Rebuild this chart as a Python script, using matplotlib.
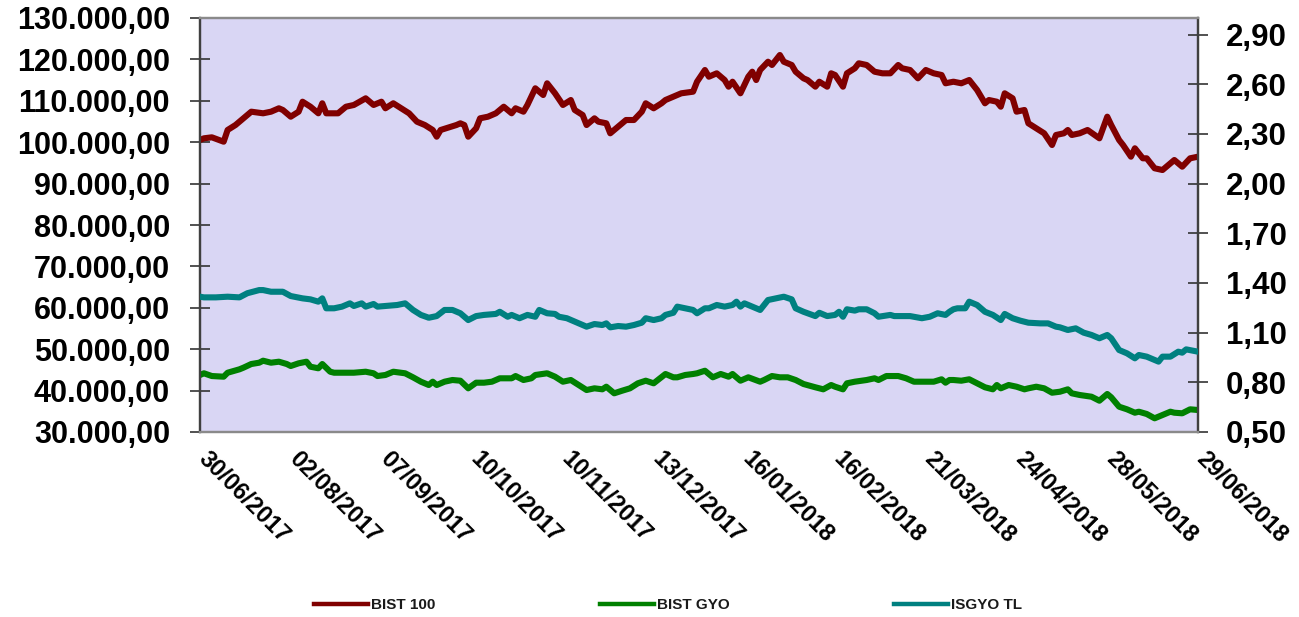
import matplotlib
matplotlib.use("Agg")
import matplotlib.pyplot as plt
from matplotlib.ticker import FuncFormatter, FixedLocator
from matplotlib.lines import Line2D
from matplotlib.transforms import ScaledTranslation

# ---------------- data ----------------
date_labels = ["30/06/2017", "02/08/2017", "07/09/2017", "10/10/2017", "10/11/2017",
               "13/12/2017", "16/01/2018", "16/02/2018", "21/03/2018", "24/04/2018",
               "28/05/2018", "29/06/2018"]
label_step = 23  # trading days between labelled dates

bist100_day = [0, 1, 3, 6, 7, 9, 11, 13, 16, 18, 20, 21, 23, 25, 26, 28, 30, 31, 32, 35,
               37, 39, 42, 44, 46, 47, 49, 51, 53, 55, 57, 59, 60, 61,
               65, 66, 67, 68, 70, 71, 73, 75, 77, 79, 80, 82, 83, 85, 87, 88, 90, 92, 94, 95,
               97, 98, 100, 101, 103, 104, 106, 108, 110, 112, 113, 115, 117, 118, 120, 122,
               125, 126, 128,
               129, 131, 133, 134, 135, 137, 139, 140, 141, 142, 144, 145, 147, 148, 150, 151,
               153, 154, 156, 157, 159, 160, 161, 163, 164, 166, 167, 169, 171, 173, 175, 177,
               178, 180, 182, 184, 186, 188, 189, 191,
               193, 195, 197, 199, 200, 202, 203, 204, 206, 207, 209, 210, 212, 214, 216, 217,
               219, 220, 221, 223, 225, 228, 230, 231, 233, 234, 236, 237, 239, 240, 242, 244,
               245, 247, 249, 251, 253]
bist100_val = [100530, 100940, 101180, 100120, 102950, 104150, 105770, 107370, 106980, 107370,
               108190, 107780, 106160, 107370, 109780, 108570, 106980, 109400, 106980, 106980,
               108570, 108990, 110600, 108990, 109780, 108190, 109400, 108190, 106980, 104950,
               104150, 102950, 101330, 102950,
               104150, 104565, 104150, 101330, 103360, 105770, 106160, 106980, 108570, 106980,
               108190, 107370, 108990, 113020, 111400, 114230, 111810, 108990, 110190, 107780,
               106570, 104150, 105770, 104950, 104565, 102150, 103740, 105360, 105360, 107370,
               109400, 108190, 109400, 110190, 110990, 111810, 112200, 114610, 117440,
               115820, 116640, 115020, 113410, 114610, 111810, 115820, 117030, 115020, 117440,
               119440, 118650, 121060, 119440, 118650, 117030, 115430, 115020, 113410, 114610,
               113410, 116640, 116230, 113410, 116640, 117850, 119060, 118650, 117030, 116640,
               116640, 118650, 117850, 117440, 115430, 117440, 116640, 116230, 114230, 114610,
               114230, 115020, 112610, 109400, 110190, 109780, 108570, 111810, 110600, 107370,
               107780, 104565, 103360, 102150, 99320, 101740, 102150, 102950, 101740, 102150,
               102950, 100940, 106160, 104150, 100530, 99320, 96500, 98530, 96110, 96110,
               93700, 93280, 94080, 95700, 94080, 96110, 96500]

gyo_day = [0, 1, 3, 6, 7, 10, 11, 13, 15, 16, 18, 20, 22, 23, 25, 27, 28, 30, 31, 33,
           34, 37, 39, 42, 44, 45, 47, 49, 52, 54, 56, 58, 59, 60, 62,
           64, 66, 68, 70, 72, 74, 76, 79, 80, 82, 84, 85, 88, 90, 92, 94, 96, 98, 100, 102,
           103, 105, 107, 109, 111, 113, 115, 118, 120, 121, 123, 125, 126, 128,
           130, 132, 134, 135, 137, 139, 142, 143, 145, 147, 149, 151, 153, 156, 158, 160,
           161, 163, 164, 166, 169, 171, 172, 174, 177, 179, 181, 184, 186, 188, 189, 190, 191,
           193, 195, 197, 199, 201, 202, 203, 205, 207, 209, 210, 212, 214, 216, 218, 220,
           221, 223, 226, 228, 230, 231, 233, 235, 237, 238, 240, 242, 244, 246, 247, 249,
           251, 253]
gyo_val = [43770, 44180, 43520, 43360, 44320, 45140, 45530, 46420, 46740, 47220,
           46740, 46980, 46420, 45940, 46590, 46980, 45770, 45390, 46420, 44560,
           44320, 44320, 44320, 44560, 44180, 43520, 43770, 44560, 44180, 43210,
           42150, 41350, 42150, 41350, 42150,
           42560, 42390, 40550, 41910, 41910, 42150, 42970, 42970, 43520, 42560,
           42970, 43770, 44180, 43360, 42150, 42560, 41350, 40140, 40550, 40310,
           40940, 39345, 39970, 40550, 41760, 42390, 41760, 44010, 43210, 43210,
           43770, 44010, 44180, 44800,
           43210, 44010, 43360, 44010, 42390, 43210, 42150, 42560, 43520, 43210,
           43210, 42560, 41590, 40800, 40310, 41350, 40940, 40310, 41760, 42150,
           42560, 42970, 42560, 43520, 43520, 42970, 42150, 42150, 42150, 42730,
           41910, 42560, 42560,
           42390, 42730, 41760, 40800, 40310, 41350, 40550, 41350, 40940, 40310,
           40550, 40940, 40550, 39490, 39730, 40310, 39345, 38940, 38525, 37560,
           39180, 38380, 36110, 35480, 34660, 34900, 34350, 33310, 34100, 34900,
           34660, 34515, 35480, 35310]

isgyo_day = [0, 1, 4, 7, 10, 12, 15, 16, 18, 21, 23, 26, 28, 30, 31, 32, 34, 36, 38, 39,
             41, 42, 44, 45, 48, 50, 52, 54, 56, 58, 60, 62,
             64, 66, 68, 70, 72, 75, 76, 78, 79, 81, 83, 85, 86, 88, 90, 91, 93, 96, 98, 100,
             102, 103, 104, 106, 108, 110, 112, 113, 115, 117, 118, 120, 121, 123, 125, 126, 128,
             129, 131, 133, 135, 136, 137, 138, 140, 142, 144, 146, 148, 150, 151, 153, 156,
             157, 159, 161, 162, 163, 164, 166, 167, 169, 171, 172, 175, 176, 178, 180, 183,
             185, 187, 189, 190, 191,
             192, 194, 195, 197, 199, 201, 203, 204, 206, 208, 210, 213, 215, 217, 218, 220,
             222, 224, 226, 228, 230, 231, 233, 235, 237, 238, 240, 241, 243, 244, 246, 248,
             249, 250, 253]
isgyo_val = [1.317, 1.313, 1.313, 1.317, 1.313, 1.338, 1.357, 1.357, 1.347, 1.347,
             1.321, 1.307, 1.301, 1.287, 1.307, 1.247, 1.247, 1.257, 1.277, 1.261,
             1.277, 1.257, 1.273, 1.257, 1.263, 1.267, 1.277, 1.237, 1.207, 1.190,
             1.200, 1.237,
             1.237, 1.217, 1.176, 1.200, 1.207, 1.213, 1.226, 1.196, 1.207, 1.187,
             1.207, 1.196, 1.237, 1.217, 1.213, 1.196, 1.187, 1.156, 1.136, 1.152,
             1.146, 1.156, 1.132, 1.140, 1.136, 1.146, 1.160, 1.187, 1.176, 1.187,
             1.207, 1.220, 1.257, 1.247, 1.237, 1.217, 1.247,
             1.247, 1.267, 1.257, 1.267, 1.287, 1.257, 1.277, 1.257, 1.237, 1.297,
             1.307, 1.317, 1.301, 1.247, 1.226, 1.200, 1.220, 1.200, 1.207, 1.226,
             1.196, 1.241, 1.233, 1.241, 1.241, 1.217, 1.196, 1.207, 1.200, 1.200,
             1.200, 1.187, 1.196, 1.217, 1.207, 1.226, 1.241,
             1.247, 1.247, 1.287, 1.267, 1.226, 1.207, 1.176, 1.213, 1.187, 1.172,
             1.160, 1.156, 1.156, 1.136, 1.132, 1.116, 1.126, 1.100, 1.086, 1.066,
             1.086, 1.066, 0.995, 0.975, 0.945, 0.965, 0.955, 0.945, 0.925, 0.955,
             0.955, 0.985, 0.979, 0.999, 0.985]

left_ticks = [30000, 40000, 50000, 60000, 70000, 80000, 90000, 100000, 110000, 120000, 130000]
right_ticks = [0.50, 0.80, 1.10, 1.40, 1.70, 2.00, 2.30, 2.60, 2.90]

series_names = ["BIST 100", "BIST GYO", "ISGYO TL"]
colors = ["#800000", "#008000", "#008080"]

# ---------------- figure ----------------
plt.rcParams['font.family'] = ['Liberation Sans', 'DejaVu Sans']
fig = plt.figure(figsize=(12.99, 6.17), dpi=100)
ax = fig.add_axes([200 / 1299, 1 - 432 / 617, 998 / 1299, 414 / 617])
ax.set_facecolor("#D9D6F4")
ax2 = ax.twinx()

lw = 4.4
ax.plot(bist100_day, bist100_val, color=colors[0], lw=lw, solid_joinstyle='round', zorder=3)
ax.plot(gyo_day, gyo_val, color=colors[1], lw=lw, solid_joinstyle='round', zorder=3)
ax2.plot(isgyo_day, isgyo_val, color=colors[2], lw=lw, solid_joinstyle='round', zorder=3)

n_days = label_step * (len(date_labels) - 1)
ax.set_xlim(0, n_days)
ax.set_ylim(30000, 130000)
ax2.set_ylim(0.5, 3.0)

ax.yaxis.set_major_locator(FixedLocator(left_ticks))
ax2.yaxis.set_major_locator(FixedLocator(right_ticks))


def tr_thousands(v, pos):
    s = f"{v:,.2f}"
    return s.replace(",", "X").replace(".", ",").replace("X", ".")


def tr_dec(v, pos):
    return f"{v:.2f}".replace(".", ",")


ax.yaxis.set_major_formatter(FuncFormatter(tr_thousands))
ax2.yaxis.set_major_formatter(FuncFormatter(tr_dec))

ax.set_xticks([label_step * i for i in range(len(date_labels))])
ax.set_xticklabels(date_labels, rotation=-45, ha='left', va='top',
                   fontsize=17, fontweight='bold', color='black')
ax.tick_params(axis='x', length=0, pad=11)
shift = ScaledTranslation(-6 / 100, 0, fig.dpi_scale_trans)
for lab in ax.get_xticklabels():
    lab.set_transform(lab.get_transform() + shift)

ax.tick_params(axis='y', direction='inout', length=14.4, width=1.2, color='#333333',
               labelsize=22, pad=14.4)
ax2.tick_params(axis='y', direction='inout', length=14.4, width=1.2, color='#333333',
                labelsize=22.5, pad=12.8)
for lab in ax.get_yticklabels() + ax2.get_yticklabels():
    lab.set_fontweight('bold')

for a in (ax, ax2):
    a.spines['top'].set_color('#8a8a8a')
    a.spines['bottom'].set_color('#8a8a8a')
    a.spines['top'].set_linewidth(1.6)
    a.spines['bottom'].set_linewidth(1.6)
    a.spines['left'].set_color('#404040')
    a.spines['right'].set_color('#404040')
    a.spines['left'].set_linewidth(1.6)
    a.spines['right'].set_linewidth(1.6)

handles = [Line2D([0], [0], color=c, lw=3.2) for c in colors]
fig.legend(handles, series_names, loc='center', bbox_to_anchor=(668 / 1299, 1 - 605 / 617),
           ncol=3, frameon=False, handlelength=3.5, handletextpad=0.2, columnspacing=10.8,
           prop={'size': 11, 'weight': 'bold'}, labelcolor='#1a1a1a')

fig.savefig("out.png", dpi=100)
